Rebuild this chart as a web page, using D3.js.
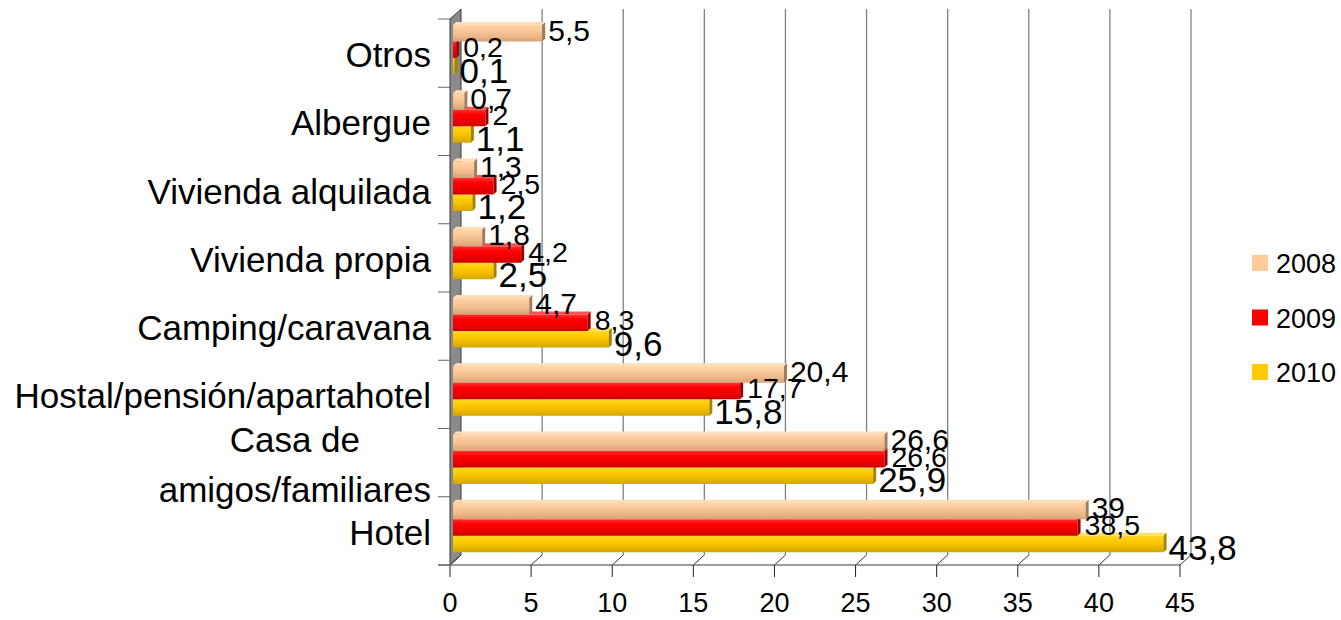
<!DOCTYPE html>
<html>
<head>
<meta charset="utf-8">
<script src="https://cdn.jsdelivr.net/npm/d3@7/dist/d3.min.js"></script>
<style>
  html, body { margin: 0; padding: 0; background: #ffffff; }
  svg { display: block; }
  text { font-family: "Liberation Sans", Arial, sans-serif; fill: #000; }
</style>
</head>
<body>
<svg id="chart" width="1341" height="620"></svg>
<script>
// ---------- data ----------
const categories = ["Otros", "Albergue", "Vivienda alquilada", "Vivienda propia",
  "Camping/caravana", "Hostal/pensión/apartahotel", "Casa de\namigos/familiares", "Hotel"];
const seriesNames = ["2008", "2009", "2010"];
const values2008 = [5.5, 0.7, 1.3, 1.8, 4.7, 20.4, 26.6, 39];
const values2009 = [0.2, 2, 2.5, 4.2, 8.3, 17.7, 26.6, 38.5];
const values2010 = [0.1, 1.1, 1.2, 2.5, 9.6, 15.8, 25.9, 43.8];
const xTickValues = [0, 5, 10, 15, 20, 25, 30, 35, 40, 45];

// ---------- layout / style ----------
const seriesValues = [values2008, values2009, values2010];
const seriesStyle = [
  { stops: ["#FFD6AC", "#FACA99", "#EDB98A", "#D8A478"], top: "#FFDDB8", cap: "#A57A58", legend: "#FFCC99", font: 30, dx: 3, dy: -1 },
  { stops: ["#FF3030", "#FF0000", "#EE0000", "#CC0000"], top: "#FF5050", cap: "#990000", legend: "#FF0000", font: 28.5, dx: 4, dy: -1 },
  { stops: ["#FFD633", "#FFCC00", "#EEBB00", "#D4A600"], top: "#FFE066", cap: "#A88000", legend: "#FFCC00", font: 35, dx: 2, dy: 8 }
];
const front = { left: 450, right: 1180, top: 19, bottom: 565 };
const DX = 11, DY = -10;       // depth of the 3-D box
const BD = 3;                   // depth of the bars
const fmt = v => String(v).replace(".", ",");

const svg = d3.select("#chart");
const defs = svg.append("defs");

const x = d3.scaleLinear().domain([0, 45]).range([front.left, front.right]);
const y = d3.scaleBand().domain(categories).range([front.top, front.bottom]);
const inner = d3.scaleBand().domain(seriesNames).range([6, 55.5]);

// gradients
seriesStyle.forEach((s, i) => {
  const g = defs.append("linearGradient").attr("id", "g" + i)
    .attr("x1", 0).attr("y1", 0).attr("x2", 0).attr("y2", 1);
  const offs = [0, 0.3, 0.65, 1];
  s.stops.forEach((c, k) => g.append("stop").attr("offset", offs[k]).attr("stop-color", c));
});

// ---------- back wall grid ----------
svg.append("g").selectAll("line").data(xTickValues.filter(t => t > 0)).join("line")
  .attr("x1", d => x(d) + DX).attr("x2", d => x(d) + DX)
  .attr("y1", front.top + DY).attr("y2", front.bottom + DY)
  .attr("stroke", "#808080").attr("stroke-width", 1.3);

// left side wall
svg.append("polygon")
  .attr("points", [[front.left, front.top], [front.left + DX, front.top + DY],
                   [front.left + DX, front.bottom + DY], [front.left, front.bottom]].map(p => p.join(",")).join(" "))
  .attr("fill", "#8a8a8a").attr("stroke", "#3a3a3a").attr("stroke-width", 1);

// floor diagonals
svg.append("g").selectAll("line").data(xTickValues).join("line")
  .attr("x1", d => x(d)).attr("y1", front.bottom)
  .attr("x2", d => x(d) + DX).attr("y2", front.bottom + DY)
  .attr("stroke", "#333").attr("stroke-width", 1);

// floor front edge
svg.append("line").attr("x1", front.left - 12).attr("x2", front.right)
  .attr("y1", front.bottom).attr("y2", front.bottom)
  .attr("stroke", "#7a7a7a").attr("stroke-width", 1.5);

// x ticks + labels
const xa = svg.append("g");
xa.selectAll("line").data(xTickValues).join("line")
  .attr("x1", d => x(d)).attr("x2", d => x(d))
  .attr("y1", front.bottom).attr("y2", front.bottom + 12)
  .attr("stroke", "#222").attr("stroke-width", 1);
xa.selectAll("text").data(xTickValues).join("text")
  .attr("x", d => x(d)).attr("y", front.bottom + 47)
  .attr("text-anchor", "middle").attr("font-size", 27).text(d => d);

// category ticks
const bounds = categories.map(c => y(c)).concat([front.bottom]);
svg.append("g").selectAll("line").data(bounds).join("line")
  .attr("x1", front.left - 12).attr("x2", front.left)
  .attr("y1", d => d).attr("y2", d => d)
  .attr("stroke", "#666").attr("stroke-width", 1);

// category labels (multi-line labels are centred as a block, block right-aligned)
const catG = svg.append("g");
const labelRight = 431;
categories.forEach(c => {
  const lines = c.split("\n");
  const cy = y(c) + y.bandwidth() / 2 + 2;
  const gap = 50;
  const texts = lines.map((ln, k) => {
    const ly = cy + (k - (lines.length - 1) / 2) * gap;
    return catG.append("text").attr("y", ly + 12).attr("font-size", 35).text(ln);
  });
  if (lines.length === 1) {
    texts[0].attr("x", labelRight).attr("text-anchor", "end");
  } else {
    const w = d3.max(texts, t => t.node().getComputedTextLength());
    texts.forEach(t => t.attr("x", labelRight - w / 2).attr("text-anchor", "middle"));
  }
});

// ---------- bars ----------
const barsG = svg.append("g");
for (let i = seriesNames.length - 1; i >= 0; i--) {
  const s = seriesStyle[i];
  categories.forEach((c, j) => {
    const v = seriesValues[i][j];
    const x0 = x(0) + 3, x1 = x(v) + 3;
    const t = y(c) + inner(seriesNames[i]);
    const h = inner.bandwidth();
    const g = barsG.append("g");
    g.append("polygon").attr("points",
      [[x0, t], [x0 + BD, t - BD], [x1 + BD, t - BD], [x1, t]].map(p => p.join(",")).join(" "))
      .attr("fill", s.top);
    g.append("rect").attr("x", x0).attr("y", t).attr("width", Math.max(0.5, x1 - x0)).attr("height", h)
      .attr("fill", "url(#g" + i + ")");
    g.append("polygon").attr("points",
      [[x1, t], [x1 + BD, t - BD], [x1 + BD, t + h - BD], [x1, t + h]].map(p => p.join(",")).join(" "))
      .attr("fill", s.cap);
  });
}

// ---------- data labels ----------
const labG = svg.append("g");
seriesNames.forEach((sn, i) => {
  const s = seriesStyle[i];
  categories.forEach((c, j) => {
    const v = seriesValues[i][j];
    labG.append("text")
      .attr("x", x(v) + 3 + BD + s.dx)
      .attr("y", y(c) + inner(sn) + inner.bandwidth() + s.dy)
      .attr("font-size", s.font).text(fmt(v));
  });
});

// ---------- legend ----------
const legend = svg.append("g");
const legendY = d3.scalePoint().domain(seriesNames).range([263, 372]);
seriesNames.forEach((sn, i) => {
  legend.append("rect").attr("x", 1252).attr("y", legendY(sn) - 8).attr("width", 16).attr("height", 16)
    .attr("fill", seriesStyle[i].legend);
  legend.append("text").attr("x", 1276).attr("y", legendY(sn) + 10)
    .attr("font-size", 27).text(sn);
});
</script>
</body>
</html>
